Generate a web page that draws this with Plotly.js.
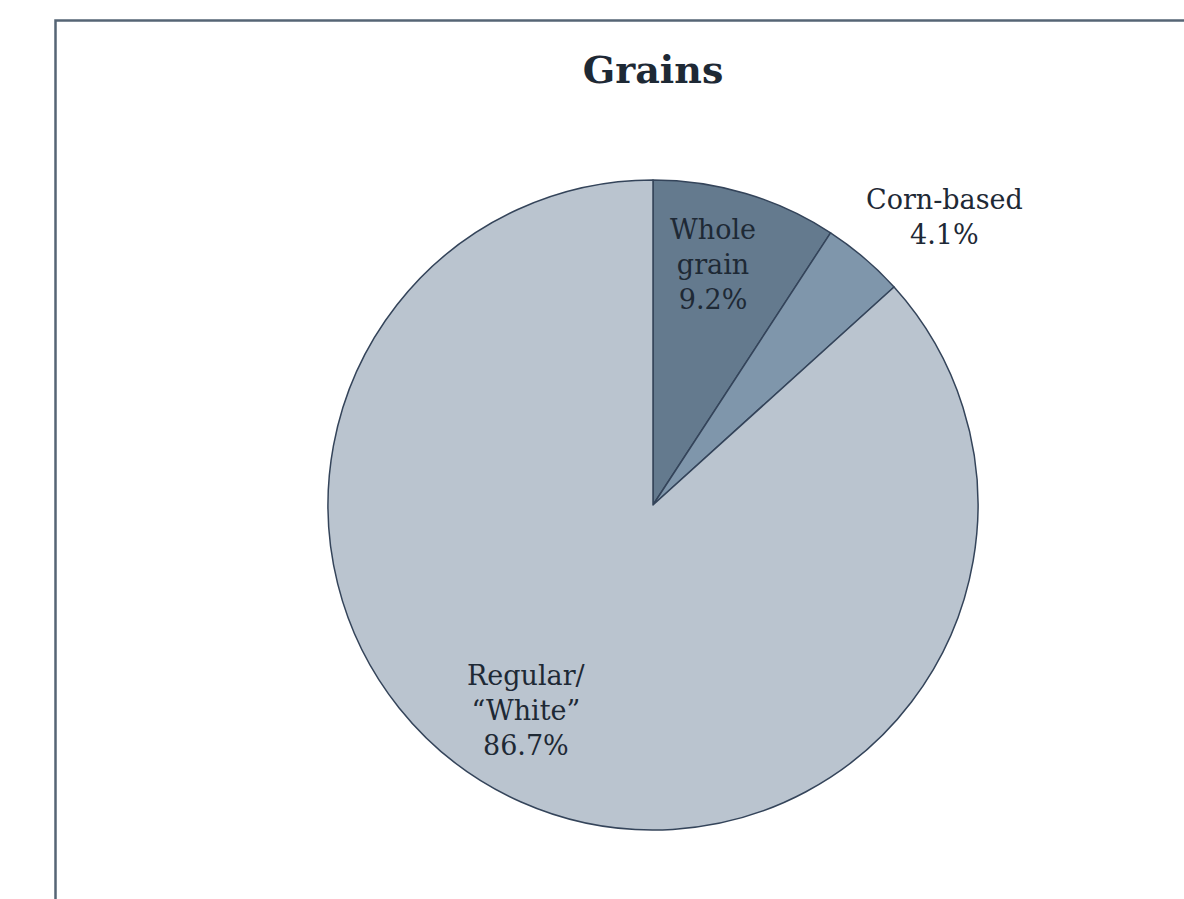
<!DOCTYPE html>
<html>
<head>
<meta charset="utf-8">
<script src="https://cdn.plot.ly/plotly-3.0.1.min.js"></script>
<style>
  html, body { margin: 0; padding: 0; background: #ffffff; }
  #chart { width: 1184px; height: 899px; }
</style>
</head>
<body>
<div id="chart"></div>
<script>
// Share of grain products by type
const categories = ['Whole grain', 'Corn-based', 'Regular/“White”'];
const labelText = ['Whole<br>grain', 'Corn-based', 'Regular/<br>“White”'];
const shares = [9.2, 4.1, 86.7];
const sliceColors = ['#647a8e', '#7f96ab', '#bac4cf'];

// Where each slice's label sits (paper coordinates)
const labelPos = [
  { x: 713 / 1184, y: 1 - 265 / 899 },
  { x: 944 / 1184, y: 1 - 217 / 899 },
  { x: 526 / 1184, y: 1 - 710 / 899 }
];

const textColor = '#1e2935';
const serif = 'DejaVu Serif, Liberation Serif, serif';

const trace = {
  type: 'pie',
  labels: categories,
  values: shares,
  sort: false,
  direction: 'clockwise',
  rotation: 0,
  textinfo: 'none',
  hoverinfo: 'label+percent',
  marker: {
    colors: sliceColors,
    line: { color: '#34445a', width: 1.5 }
  },
  domain: { x: [328 / 1184, 978 / 1184], y: [69 / 899, 719 / 899] },
  showlegend: false
};

const annotations = categories.map((c, i) => ({
  xref: 'paper', yref: 'paper',
  x: labelPos[i].x, y: labelPos[i].y,
  xanchor: 'center', yanchor: 'middle',
  showarrow: false,
  align: 'center',
  text: labelText[i] + '<br>' + shares[i].toFixed(1) + '%',
  font: { family: serif, size: 27, color: textColor }
}));

const layout = {
  width: 1184,
  height: 899,
  margin: { l: 0, r: 0, t: 0, b: 0 },
  paper_bgcolor: '#ffffff',
  title: {
    text: '<b>Grains</b>',
    x: 653 / 1184, xanchor: 'center', xref: 'paper',
    y: 1 - 70 / 899, yanchor: 'middle', yref: 'paper',
    font: { family: serif, size: 38, color: textColor }
  },
  annotations: annotations,
  shapes: [{
    type: 'rect', xref: 'paper', yref: 'paper',
    x0: 55.5 / 1184, x1: 1.05, y0: -0.05, y1: 1 - 20.5 / 899,
    line: { color: '#566575', width: 2.5 },
    fillcolor: 'rgba(0,0,0,0)',
    layer: 'below'
  }]
};

Plotly.newPlot('chart', [trace], layout, { displayModeBar: false, staticPlot: true });
</script>
</body>
</html>
